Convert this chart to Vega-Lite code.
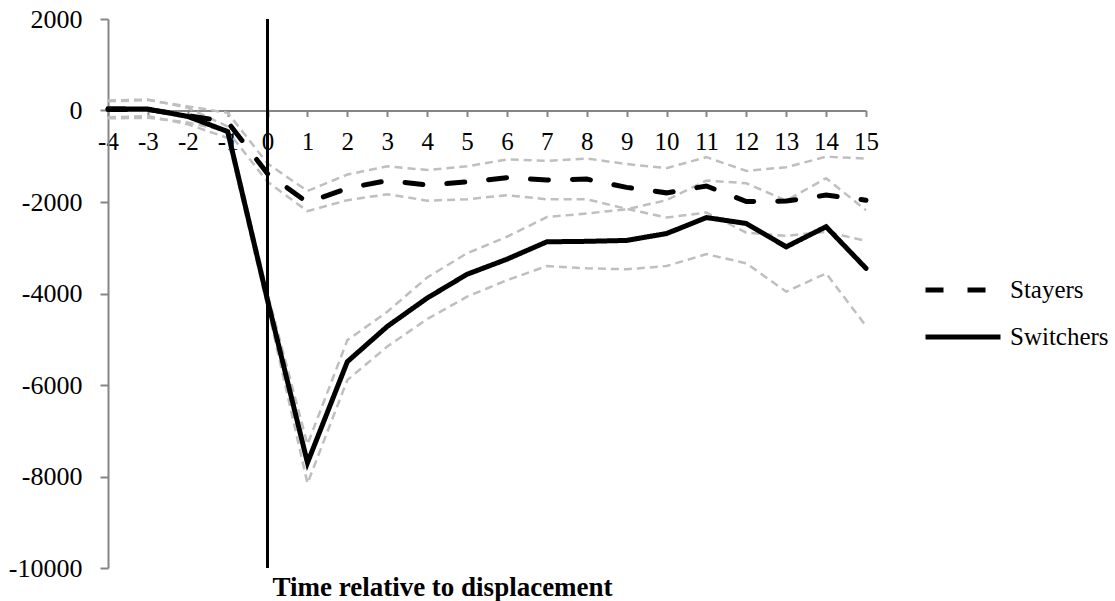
{
  "$schema": "https://vega.github.io/schema/vega-lite/v6.json",
  "width": 758,
  "height": 549,
  "autosize": {"type": "none"},
  "padding": {"left": 108, "top": 19, "right": 249, "bottom": 33},
  "background": "white",
  "config": {
    "view": {"stroke": null},
    "font": "Liberation Serif, serif",
    "axis": {"grid": false}
  },
  "data": {
    "values": [
      {"t": -4, "group": "Stayers", "est": 20, "lo": -170, "hi": 200},
      {"t": -3, "group": "Stayers", "est": 20, "lo": -160, "hi": 230},
      {"t": -2, "group": "Stayers", "est": -110, "lo": -260, "hi": 90},
      {"t": -1, "group": "Stayers", "est": -250, "lo": -450, "hi": -50},
      {"t": 0, "group": "Stayers", "est": -1380, "lo": -1560, "hi": -1160},
      {"t": 1, "group": "Stayers", "est": -2010, "lo": -2200, "hi": -1760},
      {"t": 2, "group": "Stayers", "est": -1700, "lo": -1960, "hi": -1400},
      {"t": 3, "group": "Stayers", "est": -1530, "lo": -1830, "hi": -1220},
      {"t": 4, "group": "Stayers", "est": -1630, "lo": -1970, "hi": -1300},
      {"t": 5, "group": "Stayers", "est": -1560, "lo": -1940, "hi": -1220},
      {"t": 6, "group": "Stayers", "est": -1470, "lo": -1850, "hi": -1070},
      {"t": 7, "group": "Stayers", "est": -1520, "lo": -1940, "hi": -1100},
      {"t": 8, "group": "Stayers", "est": -1500, "lo": -1940, "hi": -1050},
      {"t": 9, "group": "Stayers", "est": -1680, "lo": -2150, "hi": -1170},
      {"t": 10, "group": "Stayers", "est": -1800, "lo": -2340, "hi": -1260},
      {"t": 11, "group": "Stayers", "est": -1650, "lo": -2230, "hi": -1020},
      {"t": 12, "group": "Stayers", "est": -1990, "lo": -2670, "hi": -1320},
      {"t": 13, "group": "Stayers", "est": -1980, "lo": -2740, "hi": -1240},
      {"t": 14, "group": "Stayers", "est": -1850, "lo": -2650, "hi": -1010},
      {"t": 15, "group": "Stayers", "est": -1960, "lo": -2850, "hi": -1050},
      {"t": -4, "group": "Switchers", "est": 40, "lo": -150, "hi": 220},
      {"t": -3, "group": "Switchers", "est": 30, "lo": -120, "hi": 240},
      {"t": -2, "group": "Switchers", "est": -130, "lo": -300, "hi": 60},
      {"t": -1, "group": "Switchers", "est": -460, "lo": -600, "hi": -350},
      {"t": 0, "group": "Switchers", "est": -4150, "lo": -4300, "hi": -4000},
      {"t": 1, "group": "Switchers", "est": -7700, "lo": -8150, "hi": -7300},
      {"t": 2, "group": "Switchers", "est": -5490, "lo": -5890, "hi": -5020},
      {"t": 3, "group": "Switchers", "est": -4720, "lo": -5160, "hi": -4400},
      {"t": 4, "group": "Switchers", "est": -4100, "lo": -4560, "hi": -3650},
      {"t": 5, "group": "Switchers", "est": -3580, "lo": -4070, "hi": -3120},
      {"t": 6, "group": "Switchers", "est": -3250, "lo": -3710, "hi": -2760},
      {"t": 7, "group": "Switchers", "est": -2870, "lo": -3400, "hi": -2330},
      {"t": 8, "group": "Switchers", "est": -2860, "lo": -3450, "hi": -2250},
      {"t": 9, "group": "Switchers", "est": -2840, "lo": -3470, "hi": -2160},
      {"t": 10, "group": "Switchers", "est": -2690, "lo": -3400, "hi": -1960},
      {"t": 11, "group": "Switchers", "est": -2340, "lo": -3140, "hi": -1530},
      {"t": 12, "group": "Switchers", "est": -2470, "lo": -3340, "hi": -1590},
      {"t": 13, "group": "Switchers", "est": -2980, "lo": -3960, "hi": -1970},
      {"t": 14, "group": "Switchers", "est": -2540, "lo": -3560, "hi": -1480},
      {"t": 15, "group": "Switchers", "est": -3450, "lo": -4710, "hi": -2180}
    ]
  },
  "encoding": {
    "x": {
      "field": "t",
      "type": "quantitative",
      "scale": {"domain": [-4, 15], "nice": false, "zero": false},
      "axis": {
        "values": [-4, -3, -2, -1, 0, 1, 2, 3, 4, 5, 6, 7, 8, 9, 10, 11, 12, 13, 14, 15],
        "offset": -457.5,
        "labelExpr": "datum.value + ''",
        "labelFont": "Liberation Serif, serif",
        "labelColor": "black",
        "labelFontSize": 25,
        "labelPadding": 13,
        "labelFlush": false,
        "labelOverlap": false,
        "tickSize": 6,
        "tickColor": "#868686",
        "tickWidth": 2,
        "domainColor": "#868686",
        "domainWidth": 2,
        "title": "Time relative to displacement",
        "titleFont": "Liberation Serif, serif",
        "titleColor": "black",
        "titleFontSize": 27,
        "titleFontWeight": "bold",
        "titleX": 334,
        "titleY": 477,
        "titleBaseline": "middle",
        "titleAlign": "center",
        "titleAnchor": null
      }
    },
    "y": {
      "type": "quantitative",
      "scale": {"domain": [-10000, 2000], "nice": false, "zero": false},
      "axis": {
        "values": [-10000, -8000, -6000, -4000, -2000, 0, 2000],
        "labelExpr": "datum.value + ''",
        "labelFont": "Liberation Serif, serif",
        "labelColor": "black",
        "labelFontSize": 26,
        "labelPadding": 18,
        "tickSize": 8,
        "tickColor": "#868686",
        "tickWidth": 2,
        "domainColor": "#868686",
        "domainWidth": 2,
        "title": null
      }
    }
  },
  "layer": [
    {
      "mark": {"type": "line", "color": "#BFBFBF", "strokeWidth": 2.5, "strokeDash": [8, 5]},
      "encoding": {"y": {"field": "lo", "type": "quantitative"}, "detail": {"field": "group"}}
    },
    {
      "mark": {"type": "line", "color": "#BFBFBF", "strokeWidth": 2.5, "strokeDash": [8, 5]},
      "encoding": {"y": {"field": "hi", "type": "quantitative"}, "detail": {"field": "group"}}
    },
    {
      "mark": {"type": "rule", "color": "black", "strokeWidth": 2},
      "encoding": {"x": {"datum": 0}, "y": null}
    },
    {
      "mark": {"type": "line", "color": "black", "strokeWidth": 5, "strokeCap": "round", "strokeJoin": "miter"},
      "encoding": {
        "y": {"field": "est", "type": "quantitative"},
        "strokeDash": {
          "field": "group",
          "type": "nominal",
          "scale": {"domain": ["Stayers", "Switchers"], "range": [[18, 24], [1, 0]]},
          "legend": {
            "title": null,
            "orient": "none",
            "legendX": 815,
            "legendY": 256,
            "padding": 0,
            "symbolType": "stroke",
            "symbolSize": 5625,
            "symbolStrokeWidth": 5,
            "symbolStrokeColor": "black",
            "clipHeight": 30,
            "rowPadding": 17,
            "labelOffset": 7,
            "labelFont": "Liberation Serif, serif",
            "labelFontSize": 25,
            "labelColor": "black"
          }
        }
      }
    }
  ]
}
